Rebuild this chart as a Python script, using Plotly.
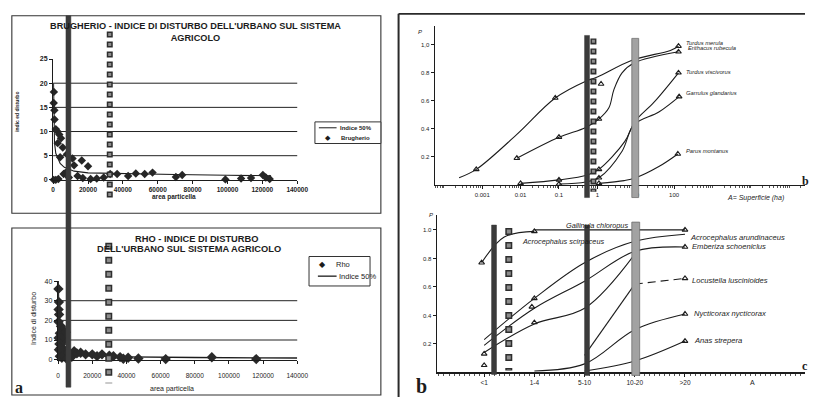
import plotly.graph_objects as go

W, H = 816, 400
F = "Liberation Sans"
INK = "#1c1c1c"

# ---------------- Panel a (top): Brugherio ----------------
brug_x = [300, 400, 700, 800, 1500, 2200, 2600, 3500, 4500, 5500, 4000, 7900, 11100, 12000, 16400, 20000,
          300, 1500, 3000, 6000, 7000, 9000, 14000, 17000, 21500, 25000, 29000, 32700, 36700, 43000,
          47400, 52500, 57000, 70400, 74000, 98800, 107800, 113500, 120300, 122000, 124200]
brug_y = [15.9, 18.2, 14.4, 12.5, 10.5, 10.1, 7.6, 9.4, 8.6, 6.7, 4.7, 5.3, 4.4, 3.0, 4.0, 2.8,
          0.0, 0.0, 0.2, 1.2, 1.4, 0.5, 0.8, 0.4, 0.2, 0.3, 0.5, 1.2, 1.2, 0.8,
          1.3, 1.2, 1.5, 0.6, 1.0, 0.1, 0.3, 0.4, 1.0, 0.5, 0.2]
brug_idx_x = [200, 400, 750, 1500, 2600, 4000, 6400, 12000, 20000, 40000, 70000, 100000, 125000]
brug_idx_y = [20, 13, 7.7, 5.5, 4.5, 3.4, 2.6, 1.8, 1.45, 1.25, 1.1, 0.95, 0.85]
area_ticks = [0, 20000, 40000, 60000, 80000, 100000, 120000, 140000]
brug_yticks = [0, 5, 10, 15, 20, 25]
brug_grid = [5, 10, 15, 20]

# ---------------- Panel a (bottom): Rho ----------------
rho_x = [200, 500, 300, 600, 300, 1700, 2700, 1000, 300, 3700, 1700, 500, 3700, 1000, 2200, 4000,
         5500, 2500, 4500, 800, 1500, 2000, 3000, 6000, 5000, 8000, 7000, 9400, 11000, 13200,
         16100, 20000, 22800, 25700, 30000, 32400, 36300, 38200, 41000, 47000, 63000, 90000, 116000]
rho_y = [36, 29.3, 25.5, 23, 19.3, 17, 15.2, 13.5, 11, 10, 7.7, 5, 5, 1.7, 1, 3,
         2, 12, 14, 8, 6, 4, 2, 3.5, 0.5, 1.5, 2.5, 4.3, 3.2, 3.5,
         2.7, 2.7, 1.8, 2.7, 2.0, 1.8, 1.3, 0.5, 1.0, 0.6, 0.3, 1.2, 0.3]
rho_idx_x = [150, 300, 600, 1200, 2500, 5000, 10000, 20000, 40000, 80000, 120000, 140000]
rho_idx_y = [40, 22, 12, 7, 4.5, 3.2, 2.4, 1.8, 1.4, 1.1, 0.9, 0.85]
rho_yticks = [0, 10, 20, 30, 40]
rho_grid = [10, 20, 30]

# ---------------- Panel b (top): P vs area (ha), log scale ----------------
b_xticks = [0.001, 0.01, 0.1, 1, 10, 100]
b_xticktext = ["0.001", "0.01", "0.1", "1", "10", "100"]
p_ticks = [0.2, 0.4, 0.6, 0.8, 1.0]
b_yticktext = ["0.2", "0.4", "0.6", "0.8", "1,0"]

merula_x = [0.00025, 0.0007, 0.008, 0.08, 0.5, 1.0, 8, 80, 130]
merula_y = [0.05, 0.11, 0.36, 0.62, 0.74, 0.77, 0.89, 0.96, 0.99]
merula_pts_x = [0.0007, 0.08, 1.25, 130]
merula_pts_y = [0.11, 0.62, 0.72, 0.99]

erith_x = [0.008, 0.1, 0.5, 1.1, 2.0, 2.7, 4.4, 9, 130]
erith_y = [0.19, 0.34, 0.41, 0.47, 0.55, 0.68, 0.80, 0.87, 0.95]
erith_pts_x = [0.008, 0.1, 1.1, 130]
erith_pts_y = [0.19, 0.34, 0.47, 0.95]

visc_x = [0.01, 0.1, 0.55, 1.1, 5.2, 9.4, 30, 130]
visc_y = [0.01, 0.035, 0.07, 0.11, 0.31, 0.45, 0.59, 0.80]
visc_pts_x = [0.01, 0.1, 1.1, 130]
visc_pts_y = [0.01, 0.035, 0.11, 0.80]

garr_x = [0.1, 0.5, 1.1, 4.4, 9, 40, 135]
garr_y = [0.005, 0.02, 0.05, 0.24, 0.43, 0.52, 0.63]
garr_pts_x = [0.1, 1.1, 135]
garr_pts_y = [0.005, 0.05, 0.63]

parus_x = [1.1, 5, 10, 40, 125]
parus_y = [0.01, 0.03, 0.05, 0.13, 0.22]
parus_pts_x = [1.1, 125]
parus_pts_y = [0.01, 0.22]

# ---------------- Panel c (bottom right): P vs area class ----------------
c_categories = ["<1", "1-4", "5-10", "10-20", ">20"]
c_yticktext = ["0.2", "0.4", "0.6", "0.8", "1.0"]

scirp_pos = [-0.05, 0.4, 1.0]
scirp_y = [0.77, 0.95, 0.99]
gall_pos = [1, 2, 3, 4]
gall_y = [1.0, 1.0, 1.0, 1.0]
arund_pos = [0, 1, 2, 3, 4]
arund_y = [0.23, 0.52, 0.77, 0.92, 0.97]
ember_pos = [0, 1, 2, 3, 4]
ember_y = [0.19, 0.45, 0.64, 0.85, 0.88]
other_pos = [0, 1, 2, 3]
other_y = [0.14, 0.34, 0.45, 0.83]
locus_pos = [2, 3, 4]
locus_y = [0.12, 0.62, 0.66]
nyct_pos = [1, 2, 3, 4]
nyct_y = [0.01, 0.06, 0.30, 0.41]
anas_pos = [2, 3, 4]
anas_y = [0.01, 0.08, 0.22]
c_pts_pos = [-0.05, 1, 0, 0, 1, 0.95, 1, 4, 4, 4, 4, 4]
c_pts_y = [0.77, 0.99, 0.13, 0.05, 0.52, 0.46, 0.35, 1.0, 0.88, 0.66, 0.41, 0.22]


def X(p):
    return p / W


def Y(p):
    return 1 - p / H


fig = go.Figure()

# panel a top
fig.add_trace(go.Scatter(x=brug_idx_x, y=brug_idx_y, mode="lines", line=dict(color=INK, width=1.1),
                         xaxis="x", yaxis="y", cliponaxis=False, name="Indice 50%"))
fig.add_trace(go.Scatter(x=brug_x, y=brug_y, mode="markers",
                         marker=dict(symbol="diamond", size=6.5, color="#262626"),
                         xaxis="x", yaxis="y", cliponaxis=False, name="Brugherio"))
# panel a bottom
fig.add_trace(go.Scatter(x=rho_idx_x, y=rho_idx_y, mode="lines", line=dict(color=INK, width=1.3),
                         xaxis="x2", yaxis="y2", cliponaxis=False, name="Indice 50%"))
fig.add_trace(go.Scatter(x=rho_x, y=rho_y, mode="markers",
                         marker=dict(symbol="diamond", size=8, color="#2a2a2a"),
                         xaxis="x2", yaxis="y2", cliponaxis=False, name="Rho"))

# panel b
tri = dict(symbol="triangle-up-open", size=5, color=INK, line=dict(width=1.1, color=INK))
for cx, cy, tx, ty in [(merula_x, merula_y, merula_pts_x, merula_pts_y),
                       (erith_x, erith_y, erith_pts_x, erith_pts_y),
                       (visc_x, visc_y, visc_pts_x, visc_pts_y),
                       (garr_x, garr_y, garr_pts_x, garr_pts_y),
                       (parus_x, parus_y, parus_pts_x, parus_pts_y)]:
    fig.add_trace(go.Scatter(x=cx, y=cy, mode="lines", line=dict(color=INK, width=1.1, shape="spline"),
                             xaxis="x3", yaxis="y3", cliponaxis=False))
    fig.add_trace(go.Scatter(x=tx, y=ty, mode="markers", marker=tri,
                             xaxis="x3", yaxis="y3", cliponaxis=False))

# panel c
for cx, cy in [(scirp_pos, scirp_y), (gall_pos, gall_y), (arund_pos, arund_y), (ember_pos, ember_y),
               (other_pos, other_y), (locus_pos[:2], locus_y[:2]), (nyct_pos, nyct_y), (anas_pos, anas_y)]:
    fig.add_trace(go.Scatter(x=cx, y=cy, mode="lines", line=dict(color=INK, width=1.1, shape="spline"),
                             xaxis="x4", yaxis="y4", cliponaxis=False))
fig.add_trace(go.Scatter(x=locus_pos[1:], y=locus_y[1:], mode="lines",
                         line=dict(color=INK, width=1.1, dash="8px,5px"),
                         xaxis="x4", yaxis="y4", cliponaxis=False))
fig.add_trace(go.Scatter(x=c_pts_pos, y=c_pts_y, mode="markers", marker=tri,
                         xaxis="x4", yaxis="y4", cliponaxis=False))

base = dict(showline=True, linecolor=INK, zeroline=False, showgrid=False, ticks="outside",
            tickcolor=INK, fixedrange=True)

fig.update_layout(
    width=W, height=H, margin=dict(l=0, r=0, t=0, b=0), showlegend=False,
    paper_bgcolor="white", plot_bgcolor="rgba(0,0,0,0)",
    font=dict(family=F, color=INK), hovermode=False,
    xaxis=dict(domain=[X(52), X(300)], range=[0, 140000], tickvals=area_ticks,
               ticktext=[str(v) for v in area_ticks], ticklen=3, linewidth=1.2,
               tickfont=dict(size=6.5, family=F, color=INK, weight="bold"), anchor="y", **base),
    yaxis=dict(domain=[Y(179), Y(56)], range=[0, 25], tickvals=brug_yticks, ticklen=3, linewidth=1.2,
               tickfont=dict(size=7, family=F, color=INK, weight="bold"), anchor="x", **base),
    xaxis2=dict(domain=[X(57), X(300)], range=[0, 140000], tickvals=area_ticks,
                ticktext=[str(v) for v in area_ticks], ticklen=3, linewidth=1.3, ticklabelstandoff=6,
                tickfont=dict(size=6.5, family=F, color=INK), anchor="y2", **base),
    yaxis2=dict(domain=[Y(362), Y(282)], range=[0, 40], tickvals=rho_yticks, ticklen=3, linewidth=1.3,
                tickfont=dict(size=7, family=F, color=INK), anchor="x2", **base),
    xaxis3=dict(type="log", domain=[X(440), 1], range=[-4.23, 5.41], tickvals=b_xticks,
                ticktext=b_xticktext, ticklen=3, linewidth=1.6,
                minor=dict(ticks="outside", ticklen=2, tickcolor="#555", dtick="D1"),
                tickfont=dict(size=6, family=F, color=INK), anchor="y3", **base),
    yaxis3=dict(domain=[Y(184), Y(22)], range=[0, 1.137], tickvals=p_ticks, ticktext=b_yticktext,
                ticklen=3, linewidth=1.4, tickfont=dict(size=6, family=F, color=INK), anchor="x3", **base),
    xaxis4=dict(domain=[X(442), 1], range=[-0.94, 6.39], tickvals=list(range(len(c_categories))),
                ticktext=c_categories, ticklen=3, linewidth=1.6,
                minor=dict(ticks="outside", ticklen=2, tickcolor="#555", dtick=0.1),
                tickfont=dict(size=6.5, family=F, color=INK), anchor="y4", **base),
    yaxis4=dict(domain=[Y(375), Y(215)], range=[0, 1.103], tickvals=p_ticks, ticktext=c_yticktext,
                ticklen=3, linewidth=1.4, tickfont=dict(size=6, family=F, color=INK), anchor="x4", **base),
)

shapes = []


def rect(x0, y0, x1, y1, fill="rgba(0,0,0,0)", line="#333", lw=1.0):
    shapes.append(dict(type="rect", xref="paper", yref="paper", x0=X(x0), x1=X(x1), y0=Y(y1), y1=Y(y0),
                       fillcolor=fill, line=dict(color=line, width=lw), layer="above"))


def seg(x0, y0, x1, y1, color="#333", lw=1.0, dash="solid"):
    shapes.append(dict(type="line", xref="paper", yref="paper", x0=X(x0), x1=X(x1), y0=Y(y0), y1=Y(y1),
                       line=dict(color=color, width=lw, dash=dash), layer="above"))


def squares(x, y0, y1, size, gap):
    seg(x, y0, x, y1, color="#2e2e2e", lw=size, dash=f"{size}px,{gap}px")
    seg(x, y0 + 1.5, x, y1, color="#8c8c8c", lw=size - 3, dash=f"{size - 3}px,{gap + 3}px")


# gridlines (data units on the y axes)
for g in brug_grid:
    shapes.append(dict(type="line", xref="x domain", yref="y", x0=0, x1=1, y0=g, y1=g,
                       line=dict(color="#222", width=1), layer="below"))
for g in rho_grid:
    shapes.append(dict(type="line", xref="x2 domain", yref="y2", x0=0, x1=1, y0=g, y1=g,
                       line=dict(color="#222", width=1), layer="below"))

# frames
rect(10, 12, 385, 213, lw=1.1)
rect(10, 228, 385, 398, lw=1.1)
seg(403, 10, 403, 400, color="#2a2a2a", lw=2)
seg(403, 10, 816, 10, color="#2a2a2a", lw=1.6)

# legends
rect(318, 120, 385, 142, fill="white", lw=1)
seg(322, 126, 340, 126, color=INK, lw=1)
rect(312, 257, 374, 287, fill="white", lw=1)
seg(321, 277, 340, 277, color=INK, lw=1.3)

# overlay bars
rect(65, 12, 70, 390, fill="#3b3b3b", line="#3b3b3b", lw=0.5)
squares(109.5, 28, 201, 6, 4)
squares(108.5, 243, 386, 7, 7)
rect(592, 32, 597, 197, fill="#3b3b3b", line="#3b3b3b", lw=0.5)
squares(601, 35, 191, 6, 4)
rect(640, 35, 647, 197, fill="#a2a2a2", line="#6e6e6e", lw=0.8)
rect(497.5, 225, 502.5, 377, fill="#3b3b3b", line="#3b3b3b", lw=0.5)
squares(515, 228, 373, 7, 7)
rect(592, 225, 597, 378, fill="#3b3b3b", line="#3b3b3b", lw=0.5)
rect(640, 222, 648, 378, fill="#a2a2a2", line="#6e6e6e", lw=0.8)

fig.update_layout(shapes=shapes)

ann = []


def txt(x, y, s, size, xa="center", fam=F, angle=0, color=INK, ya="middle"):
    ann.append(dict(x=X(x), y=Y(y), xref="paper", yref="paper", text=s, showarrow=False, xanchor=xa,
                    yanchor=ya, textangle=angle, font=dict(size=size, family=fam, color=color),
                    borderpad=0))


# panel a texts
txt(197, 28, "<b>BRUGHERIO - INDICE DI DISTURBO DELL'URBANO SUL SISTEMA<br>AGRICOLO</b>", 9.2)
txt(15, 110, "<b>indic ed disturbo</b>", 5, angle=-90)
txt(175, 196, "<b>area particella</b>", 6.5)
txt(342, 126, "<b>Indice 50%</b>", 6, xa="left")
txt(331, 136, "◆", 7, fam="DejaVu Sans")
txt(343, 136, "<b>Brugherio</b>", 6, xa="left")

txt(198, 239, "<b>RHO - INDICE DI DISTURBO</b>", 9.3)
txt(190, 249, "<b>DELL'URBANO SUL SISTEMA AGRICOLO</b>", 9.3)
txt(32, 320, "Indice di disturbo", 7, angle=-90)
txt(173, 392, "area particella", 7)
txt(326, 265, "◆", 8, fam="DejaVu Sans")
txt(338, 265, "Rho", 7.5, xa="left")
txt(341, 277, "Indice 50%", 7.5, xa="left")
txt(17.5, 400, "<b>a</b>", 16, fam="Liberation Serif", ya="bottom")

# panel b texts
txt(425, 28, "<i>P</i>", 6)
txt(766, 197, "<i>A= Superficie (ha)</i>", 7)
txt(694, 40, "<i>Turdus merula</i>", 5.8, xa="left")
txt(696, 45, "<i>Erithacus rubecula</i>", 5.8, xa="left")
txt(694, 69, "<i>Turdus viscivorus</i>", 5.8, xa="left")
txt(694, 91, "<i>Garrulus glandarius</i>", 5.8, xa="left")
txt(694, 150, "<i>Parus montanus</i>", 5.8, xa="left")
txt(812, 180, "<b>b</b>", 12, xa="left", fam="Liberation Serif")

# panel c texts
txt(436, 215, "<i>P</i>", 6)
txt(763, 385, "A", 7)
txt(605, 225, "<i>Gallinula chloropus</i>", 7.3)
txt(527, 242, "<i>Acrocephalus scirpaceus</i>", 7.3, xa="left")
txt(698, 238, "<i>Acrocephalus arundinaceus</i>", 7.6, xa="left")
txt(700, 247, "<i>Emberiza schoeniclus</i>", 7.6, xa="left")
txt(700, 281, "<i>Locustella luscinioides</i>", 7.6, xa="left")
txt(702, 315, "<i>Nycticorax nycticorax</i>", 7.6, xa="left")
txt(702, 343, "<i>Anas strepera</i>", 7.6, xa="left")
txt(426, 401, "<b>b</b>", 20, fam="Liberation Serif", ya="bottom")
txt(812, 368, "<b>c</b>", 12, xa="left", fam="Liberation Serif")

fig.update_layout(annotations=ann)

fig.write_html("out.html", config={"displayModeBar": False, "staticPlot": True},
               post_script="document.body.style.margin='0px';document.body.style.overflow='hidden';")
